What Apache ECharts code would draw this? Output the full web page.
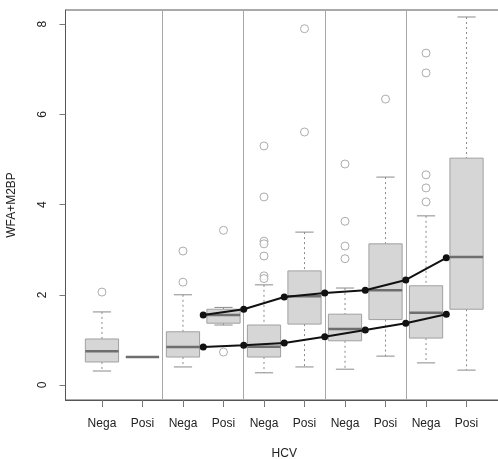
<!DOCTYPE html>
<html><head><meta charset="utf-8">
<script src="https://cdn.jsdelivr.net/npm/echarts@6/dist/echarts.min.js"></script>
<style>html,body{margin:0;padding:0;background:#fff}#c{width:498px;height:459px}</style>
</head><body><div id="c"></div>
<script>
const categories = ['Nega','Posi','Nega','Posi','Nega','Posi','Nega','Posi','Nega','Posi'];
const lowerWhisker = [0.31,0.62,0.40,1.33,0.27,0.40,0.35,0.64,0.49,0.33];
const q1 =           [0.51,0.62,0.62,1.37,0.62,1.35,0.98,1.45,1.04,1.68];
const median =       [0.75,0.62,0.84,1.55,0.85,1.97,1.24,2.10,1.60,2.84];
const q3 =           [1.02,0.62,1.18,1.68,1.33,2.53,1.57,3.13,2.20,5.03];
const upperWhisker = [1.62,0.62,2.00,1.72,2.22,3.39,2.15,4.61,3.75,8.16];
const outliers = [[2.06],[],[2.97,2.28],[3.43,0.73],[5.30,4.17,3.19,3.13,2.86,2.42,2.36],[7.90,5.61],[4.90,3.63,3.08,2.80],[6.34],[7.36,6.92,4.66,4.37,4.06],[]];
const linePositions = [3.5,4.5,5.5,6.5,7.5,8.5,9.5];
const upperLine = [1.55,1.68,1.95,2.04,2.10,2.33,2.82];
const lowerLine = [0.84,0.88,0.93,1.07,1.22,1.37,1.57];
const yTicks = [0,2,4,6,8];
const panelBreaks = [2.5,4.5,6.5,8.5];

const positions = categories.map((c,i)=>i+1);
const boxData = categories.map((c,i)=>[i+1, lowerWhisker[i], q1[i], median[i], q3[i], upperWhisker[i]]);
const outlierData = [];
outliers.forEach((arr,i)=>arr.forEach(v=>outlierData.push([i+1,v])));

const FONT = 'Liberation Sans, Arial, sans-serif';
const chart = echarts.init(document.getElementById('c'), null, {renderer:'canvas'});

function renderBox(params, api){
  const x = api.value(0);
  const w = api.size([0.82,0])[0];
  const sw = api.size([0.45,0])[0];
  const pLW = api.coord([x, api.value(1)]);
  const pQ1 = api.coord([x, api.value(2)]);
  const pMed = api.coord([x, api.value(3)]);
  const pQ3 = api.coord([x, api.value(4)]);
  const pUW = api.coord([x, api.value(5)]);
  const cx = pMed[0];
  const wl = {stroke:'#8a8a8a', lineWidth:1, lineDash:[2,3]};
  const st = {stroke:'#8a8a8a', lineWidth:1};
  return {type:'group', children:[
    {type:'line', shape:{x1:cx,y1:pUW[1],x2:cx,y2:pQ3[1]}, style:wl},
    {type:'line', shape:{x1:cx,y1:pQ1[1],x2:cx,y2:pLW[1]}, style:wl},
    {type:'line', shape:{x1:cx-sw/2,y1:pUW[1],x2:cx+sw/2,y2:pUW[1]}, style:st},
    {type:'line', shape:{x1:cx-sw/2,y1:pLW[1],x2:cx+sw/2,y2:pLW[1]}, style:st},
    {type:'rect', shape:{x:cx-w/2, y:pQ3[1], width:w, height:pQ1[1]-pQ3[1]}, style:{fill:'#d6d6d6', stroke:'#a0a0a0', lineWidth:1}},
    {type:'line', shape:{x1:cx-w/2,y1:pMed[1],x2:cx+w/2,y2:pMed[1]}, style:{stroke:'#6e6e6e', lineWidth:2.5}}
  ]};
}

chart.setOption({
  animation:false,
  backgroundColor:'#fff',
  grid:{left:65.5, top:10, width:437.5, height:390, show:true, borderColor:'#555', borderWidth:1,
        containLabel:false, outerBoundsMode:'none'},
  xAxis:{
    type:'value', min:0.1, max:10.9,
    name:'HCV', nameLocation:'middle', nameGap:48,
    nameTextStyle:{fontFamily:FONT, fontSize:12, color:'#222'},
    axisLine:{show:true, onZero:false, lineStyle:{color:'#555', width:1}},
    axisTick:{show:true, length:7, inside:false, customValues:positions, lineStyle:{color:'#777'}},
    axisLabel:{show:true, customValues:positions, margin:18, fontFamily:FONT, fontSize:12, color:'#222',
      formatter:(v)=>categories[Math.round(v)-1]},
    splitLine:{show:false}
  },
  yAxis:{
    type:'value', min:-0.333, max:8.315,
    name:'WFA+M2BP', nameLocation:'middle', nameGap:48, nameRotate:90,
    nameTextStyle:{fontFamily:FONT, fontSize:12, color:'#222'},
    axisLine:{show:true, onZero:false, lineStyle:{color:'#555', width:1}},
    axisTick:{show:true, length:6, customValues:yTicks, lineStyle:{color:'#777'}},
    axisLabel:{show:true, customValues:yTicks, rotate:90, margin:17, fontFamily:FONT, fontSize:12, color:'#222'},
    splitLine:{show:false}
  },
  series:[
    {type:'custom', renderItem:renderBox, data:boxData, encode:{x:0, y:[1,2,3,4,5]}, z:2, silent:true,
     markLine:{silent:true, symbol:['none','none'], label:{show:false},
       lineStyle:{color:'#a8a8a8', type:'solid', width:1},
       data:panelBreaks.map(b=>({xAxis:b}))}},
    {type:'scatter', data:outlierData, symbol:'circle', symbolSize:8,
     itemStyle:{color:'#ffffff', borderColor:'#999999', borderWidth:1}, z:3, silent:true},
    {type:'line', data:linePositions.map((p,i)=>[p, upperLine[i]]), symbol:'circle', symbolSize:7,
     lineStyle:{color:'#111', width:2}, itemStyle:{color:'#111'}, z:5, silent:true},
    {type:'line', data:linePositions.map((p,i)=>[p, lowerLine[i]]), symbol:'circle', symbolSize:7,
     lineStyle:{color:'#111', width:2}, itemStyle:{color:'#111'}, z:5, silent:true}
  ]
});
</script></body></html>
